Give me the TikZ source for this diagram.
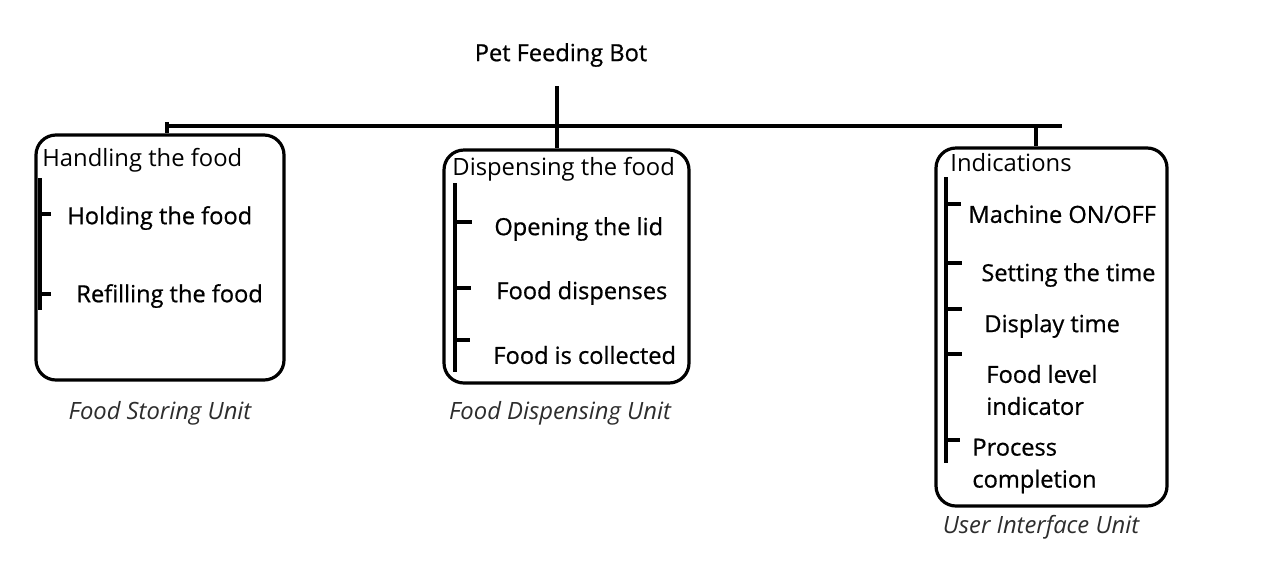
\documentclass[tikz,border=0pt]{standalone}
\usepackage{fontspec}
\setmainfont{Open Sans}
\newfontfamily\itemfont[FakeBold=0.7]{Open Sans}
\usetikzlibrary{calc}

\definecolor{captiongray}{RGB}{45,45,45}

\tikzset{
  unitbox/.style={draw, line width=1.6pt, rounded corners=10pt, inner sep=0pt},
  title/.style={anchor=west, inner sep=0pt, font=\fontsize{11.9}{14}\selectfont},
  item/.style={anchor=west, inner sep=0pt, align=left, font=\itemfont\fontsize{11.8}{16}\selectfont},
  caption/.style={inner sep=0pt, text=captiongray, font=\fontsize{11.9}{14}\selectfont\itshape},
  branch/.style={line width=1.6pt}
}

\begin{document}
\begin{tikzpicture}[x=0.5pt, y=-0.5pt]
    \useasboundingbox (0,0) rectangle (1261,574);

    \node[inner sep=0pt, font=\itemfont\fontsize{11.8}{14}\selectfont] (bot) at (561,55) {Pet Feeding Bot};

    \node[unitbox, minimum width=124pt, minimum height=122.5pt] (store) at (160,257.5) {};
    \node[unitbox, minimum width=122.5pt, minimum height=116.5pt] (disp) at (566.5,266.5) {};
    \node[unitbox, minimum width=115.5pt, minimum height=179pt] (ui) at (1051.5,327) {};

    \coordinate (root) at (557,86);
    \coordinate (barL) at (165,126);
    \coordinate (barR) at (1062,126);
    \coordinate (tickA) at (167,122);
    \coordinate (tickC) at (1036,126);

    \draw[branch] (barL) -- (barR);
    \draw[branch] (root) -- (root |- disp.north);
    \draw[branch] (tickA) -- (tickA |- store.north);
    \draw[branch] (tickC) -- (tickC |- ui.north);

    \node[title] (hand) at (42,160) {Handling the food};
    \node[title] (dispt) at (452,169) {Dispensing the food};
    \node[title] (ind) at (950,163) {Indications};

    \node[item] (hold) at (67,218) {Holding the food};
    \node[item] (refill) at (76,296) {Refilling the food};

    \node[item] (lid) at (494,229) {Opening the lid};
    \node[item] (dispenses) at (496,293) {Food dispenses};
    \node[item] (collected) at (493,355) {Food is collected};

    \node[item] (onoff) at (968,214) {Machine ON/OFF};
    \node[item] (settime) at (981,275) {Setting the time};
    \node[item] (showtime) at (984,326) {Display time};
    \node[item] (level) at (986,390) {Food level\\indicator};
    \node[item] (done) at (972,466) {Process\\completion};

    \coordinate (sA1) at (40,178);
    \coordinate (sA2) at (40,310);
    \coordinate (sB1) at (455,183);
    \coordinate (sB2) at (455,372);
    \coordinate (sC1) at (946,177);
    \coordinate (sC2) at (946,463);

    \draw[branch] (sA1) -- (sA2);
    \draw[branch] (sB1) -- (sB2);
    \draw[branch] (sC1) -- (sC2);

    \draw[branch] (sA1 |- hold) ++(0,-4) -- ++(11,0);
    \draw[branch] (sA1 |- refill) ++(0,-2) -- ++(11,0);

    \draw[branch] (sB1 |- lid) ++(0,-7) -- ++(17,0);
    \draw[branch] (sB1 |- dispenses) ++(0,-5) -- ++(16,0);
    \draw[branch] (sB1 |- collected) ++(0,-15) -- ++(15,0);

    \draw[branch] (sC1 |- onoff) ++(0,-10) -- ++(15,0);
    \draw[branch] (sC1 |- settime) ++(0,-12) -- ++(16,0);
    \draw[branch] (sC1 |- showtime) ++(0,-17) -- ++(16,0);
    \draw[branch] (sC1 |- level) ++(0,-36) -- ++(16,0);
    \draw[branch] (sC1 |- done) ++(0,-26) -- ++(14,0);

    \node[caption] (storecap) at (160,413) {Food Storing Unit};
    \node[caption] (dispcap) at (560,413) {Food Dispensing Unit};
    \node[caption] (uicap) at (1041,527) {User Interface Unit};
\end{tikzpicture}
\end{document}
